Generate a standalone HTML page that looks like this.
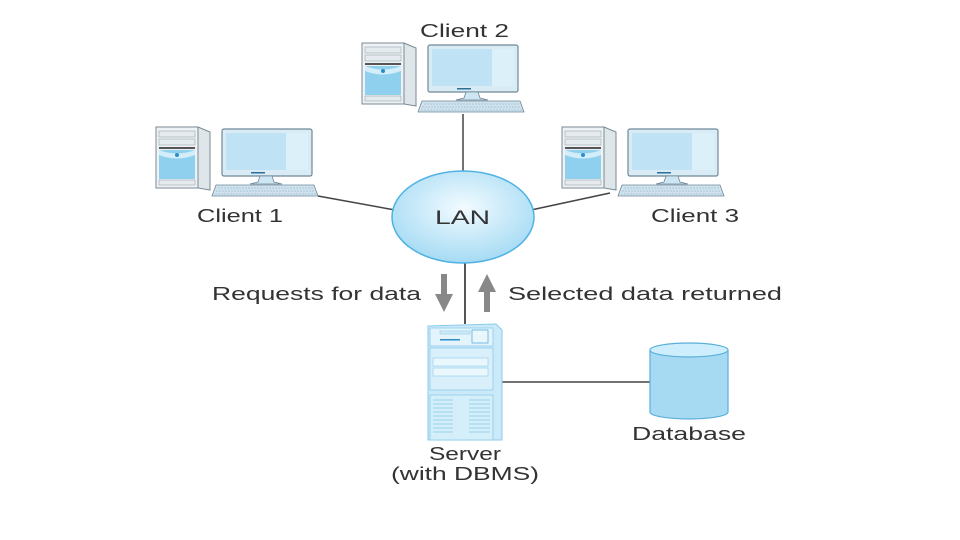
<!DOCTYPE html>
<html><head><meta charset="utf-8"><style>
html,body{margin:0;padding:0;background:#fff;}
svg{display:block;}
text{font-family:"Liberation Sans",sans-serif;fill:#333;}
</style></head><body>
<svg width="960" height="540" viewBox="0 0 960 540" xmlns="http://www.w3.org/2000/svg">
<defs>
<radialGradient id="lanr" cx="0.5" cy="0.4" r="0.6"><stop offset="0" stop-color="#f2fbff"/><stop offset="1" stop-color="#a6dbf4"/></radialGradient>
<g id="pc">
  <polygon points="42,3 54,8 54,66 42,64" fill="#dfe6ea" stroke="#7a8a95" stroke-width="1"/>
  <rect x="0" y="3" width="42" height="61" fill="#eef2f4" stroke="#7a8a95" stroke-width="1"/>
  <rect x="3" y="7" width="36" height="6" fill="#e4eaee" stroke="#9aa8b0" stroke-width="0.6"/>
  <rect x="3" y="15" width="36" height="6" fill="#e4eaee" stroke="#9aa8b0" stroke-width="0.6"/>
  <rect x="3" y="23" width="36" height="2" fill="#555"/>
  <path d="M3,26 L39,26 L39,55 L3,55 Z" fill="#8fd0ef"/>
  <path d="M3,26 Q21,33 39,26 L39,31 Q21,38 3,31 Z" fill="#d4eef9"/>
  <circle cx="21" cy="31" r="2" fill="#2a8fc8"/>
  <rect x="3" y="56" width="36" height="5" fill="#e4eaee" stroke="#9aa8b0" stroke-width="0.6"/>
  <rect x="66" y="5" width="90" height="47" rx="2" fill="#d9ecf6" stroke="#6f8796" stroke-width="1.2"/>
  <rect x="70" y="9" width="82" height="37" fill="#bfe3f5"/>
  <rect x="130" y="9" width="22" height="37" fill="#dcf0fa"/>
  <rect x="95" y="48" width="14" height="1.5" fill="#2a6f99"/>
  <path d="M104,52 L116,52 L118,58 L126,60 L94,60 L102,58 Z" fill="#cde6f3" stroke="#6f8796" stroke-width="0.8"/>
  <polygon points="60,61 158,61 162,72 56,72" fill="#cfe3ee" stroke="#6f8796" stroke-width="0.8"/>
  <line x1="62" y1="64" x2="157" y2="64" stroke="#8eaabb" stroke-width="0.6" stroke-dasharray="2 1"/>
  <line x1="60" y1="67" x2="159" y2="67" stroke="#8eaabb" stroke-width="0.6" stroke-dasharray="2 1"/>
  <line x1="59" y1="70" x2="160" y2="70" stroke="#8eaabb" stroke-width="0.6" stroke-dasharray="2 1"/>
</g>
</defs>

<line x1="318" y1="196" x2="395" y2="210" stroke="#444" stroke-width="1.5"/>
<line x1="463" y1="114" x2="463" y2="172" stroke="#444" stroke-width="1.5"/>
<line x1="531" y1="210" x2="610" y2="193" stroke="#444" stroke-width="1.5"/>
<line x1="465" y1="258" x2="465" y2="324" stroke="#555" stroke-width="2"/>
<line x1="500" y1="382" x2="652" y2="382" stroke="#444" stroke-width="1.5"/>

<use href="#pc" x="156" y="124"/>
<use href="#pc" x="362" y="40"/>
<use href="#pc" x="562" y="124"/>

<ellipse cx="463" cy="217" rx="71" ry="46" fill="url(#lanr)" stroke="#4fb3e3" stroke-width="1.5"/>
<text x="435" y="224" font-size="19" textLength="55" lengthAdjust="spacingAndGlyphs">LAN</text>

<rect x="441" y="274" width="6" height="22" fill="#888"/>
<polygon points="435,294 453,294 444,312" fill="#888"/>
<rect x="484" y="290" width="6" height="22" fill="#888"/>
<polygon points="478,292 496,292 487,274" fill="#888"/>

<g>
<polygon points="428,326 496,324 502,330 502,440 428,440" fill="#cbe9f8" stroke="#8ccbe9" stroke-width="1"/>
<rect x="430" y="328" width="63" height="18" fill="#e4f4fc" stroke="#8ccbe9" stroke-width="0.8"/>
<rect x="440" y="331" width="30" height="3" fill="#d0eaf7" stroke="#8ccbe9" stroke-width="0.6"/>
<rect x="472" y="330" width="16" height="13" fill="#e9f7fd" stroke="#5aaedb" stroke-width="0.8"/>
<rect x="440" y="339" width="20" height="1.5" fill="#2a8fc8"/>
<rect x="430" y="348" width="63" height="42" fill="#d9f0fb" stroke="#8ccbe9" stroke-width="0.8"/>
<rect x="433" y="358" width="55" height="8" fill="#eaf7fd" stroke="#8ccbe9" stroke-width="0.6"/>
<rect x="433" y="368" width="55" height="8" fill="#eaf7fd" stroke="#8ccbe9" stroke-width="0.6"/>
<rect x="430" y="395" width="63" height="45" fill="#d4eefa" stroke="#8ccbe9" stroke-width="0.8"/>
<g stroke="#9dd2ec" stroke-width="1">
<line x1="433" y1="400" x2="453" y2="400"/><line x1="433" y1="404" x2="453" y2="404"/><line x1="433" y1="408" x2="453" y2="408"/><line x1="433" y1="412" x2="453" y2="412"/><line x1="433" y1="416" x2="453" y2="416"/><line x1="433" y1="420" x2="453" y2="420"/><line x1="433" y1="424" x2="453" y2="424"/><line x1="433" y1="428" x2="453" y2="428"/><line x1="433" y1="432" x2="453" y2="432"/>
<line x1="469" y1="400" x2="490" y2="400"/><line x1="469" y1="404" x2="490" y2="404"/><line x1="469" y1="408" x2="490" y2="408"/><line x1="469" y1="412" x2="490" y2="412"/><line x1="469" y1="416" x2="490" y2="416"/><line x1="469" y1="420" x2="490" y2="420"/><line x1="469" y1="424" x2="490" y2="424"/><line x1="469" y1="428" x2="490" y2="428"/><line x1="469" y1="432" x2="490" y2="432"/>
</g>
</g>

<path d="M650,350 L650,412 A39,7 0 0 0 728,412 L728,350" fill="#a6daf3" stroke="#5aaedb" stroke-width="1.2"/>
<ellipse cx="689" cy="350" rx="39" ry="7" fill="#cdeefc" stroke="#5aaedb" stroke-width="1.2"/>

<text x="420" y="37" font-size="18" textLength="89" lengthAdjust="spacingAndGlyphs">Client 2</text>
<text x="197" y="222" font-size="18" textLength="86" lengthAdjust="spacingAndGlyphs">Client 1</text>
<text x="651" y="222" font-size="18" textLength="88" lengthAdjust="spacingAndGlyphs">Client 3</text>
<text x="212" y="300" font-size="18" textLength="209" lengthAdjust="spacingAndGlyphs">Requests for data</text>
<text x="508" y="300" font-size="18" textLength="274" lengthAdjust="spacingAndGlyphs">Selected data returned</text>
<text x="429" y="460" font-size="18" textLength="72" lengthAdjust="spacingAndGlyphs">Server</text>
<text x="391" y="480" font-size="18" textLength="148" lengthAdjust="spacingAndGlyphs">(with DBMS)</text>
<text x="632" y="440" font-size="18" textLength="114" lengthAdjust="spacingAndGlyphs">Database</text>
</svg>
</body></html>
